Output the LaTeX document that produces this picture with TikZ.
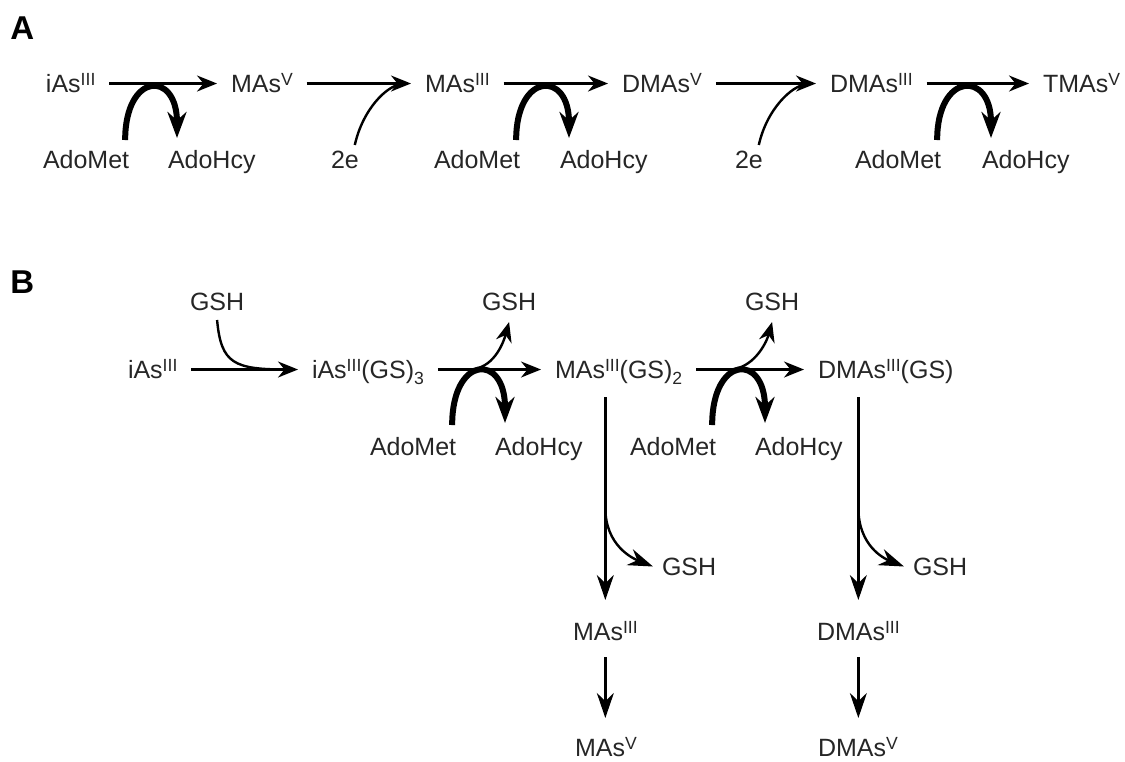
\documentclass[tikz,border=0pt]{standalone}
\usepackage{fontspec}
\setmainfont{Liberation Sans}
\usetikzlibrary{arrows.meta,calc}
\newcommand{\sps}[1]{\raisebox{3.4pt}{\fontsize{8.8}{9}\selectfont #1}}
\newcommand{\sbs}[1]{\raisebox{-3pt}{\fontsize{8.8}{9}\selectfont #1}}
\begin{document}
\begin{tikzpicture}[x=0.5pt,y=-0.5pt,
  font=\fontsize{12.5}{15}\selectfont,
  txt/.style={anchor=base west, inner xsep=0pt, inner ysep=0pt, outer sep=0pt, text height=9pt, text depth=0.5pt, text=black!85},
  chem/.style={txt, outer xsep=7pt, xshift=-7pt},
  lbl/.style={anchor=base west, inner sep=0pt, font=\fontsize{16.5}{18}\selectfont\bfseries},
  arr/.style={line width=1.2pt, -{Stealth[length=10pt,width=8pt]}},
  varr/.style={line width=1.2pt, -{Stealth[length=12.5pt,width=8.5pt]}},
  ln/.style={line width=1.2pt},
  thk/.style={line width=3pt, -{Stealth[length=13pt,width=9.5pt]}},
]
\path[use as bounding box] (0,0) rectangle (1125,761);
% ---------- Panel A ----------
\node[lbl] (A) at (10,39) {A};
\node[chem] (a1) at (46,92) {iAs\sps{III}};
\node[chem] (a2) at (231,92) {MAs\sps{V}};
\node[chem] (a3) at (425,92) {MAs\sps{III}};
\node[chem] (a4) at (622,92) {DMAs\sps{V}};
\node[chem] (a5) at (830,92) {DMAs\sps{III}};
\node[chem] (a6) at (1043,92) {TMAs\sps{V}};
\node[txt] (m1) at (43,168) {AdoMet};
\node[txt] (h1) at (168,168) {AdoHcy};
\node[txt] (e1) at (331,168) {2e};
\node[txt] (m2) at (434,168) {AdoMet};
\node[txt] (h2) at (560,168) {AdoHcy};
\node[txt] (e2) at (735,168) {2e};
\node[txt] (m3) at (855,168) {AdoMet};
\node[txt] (h3) at (982,168) {AdoHcy};
\draw[arr] (a1.east) -- (a2.west);
\draw[arr] (a2.east) -- (a3.west);
\draw[arr] (a3.east) -- (a4.west);
\draw[arr] (a4.east) -- (a5.west);
\draw[arr] (a5.east) -- (a6.west);
\draw[thk] ([shift={(-2pt,5pt)}]m1.north east) .. controls +(0,34pt) and +(0,34pt) .. ([shift={(4.5pt,6pt)}]h1.north west);
\draw[thk] ([shift={(-2pt,5pt)}]m2.north east) .. controls +(0,34pt) and +(0,34pt) .. ([shift={(4.5pt,6pt)}]h2.north west);
\draw[thk] ([shift={(-2pt,5pt)}]m3.north east) .. controls +(0,34pt) and +(0,34pt) .. ([shift={(4.5pt,6pt)}]h3.north west);
\draw[ln, shorten >=5pt] ([shift={(-2pt,2.5pt)}]e1.north east) .. controls +(4pt,18pt) and +(-12pt,-1pt) .. (a3.west);
\draw[ln, shorten >=5pt] ([shift={(-2pt,2.5pt)}]e2.north east) .. controls +(4pt,18pt) and +(-12pt,-1pt) .. (a5.west);
% ---------- Panel B ----------
\node[lbl] (B) at (10,293) {B};
\node[txt] (g1) at (190,310) {GSH};
\node[chem] (b1) at (128,378) {iAs\sps{III}};
\node[chem] (b2) at (312,378) {iAs\sps{III}(GS)\sbs{3}};
\node[chem] (b3) at (555,378) {MAs\sps{III}(GS)\sbs{2}};
\node[chem] (b4) at (818,378) {DMAs\sps{III}(GS)};
\node[txt] (g2) at (482,310) {GSH};
\node[txt] (g3) at (745,310) {GSH};
\node[txt] (m4) at (370,455) {AdoMet};
\node[txt] (h4) at (495,455) {AdoHcy};
\node[txt] (m5) at (630,455) {AdoMet};
\node[txt] (h5) at (755,455) {AdoHcy};
\node[txt] (g4) at (662,575) {GSH};
\node[txt] (g5) at (913,575) {GSH};
\node[txt] (c1) at (573,640) {MAs\sps{III}};
\node[txt] (c2) at (817,640) {DMAs\sps{III}};
\node[txt] (d1) at (575,756) {MAs\sps{V}};
\node[txt] (d2) at (818,756) {DMAs\sps{V}};
\draw[arr] (b1.east) -- (b2.west);
\draw[arr] (b2.east) -- (b3.west);
\draw[arr] (b3.east) -- (b4.west);
\draw[ln, shorten >=5pt] ([yshift=-4.5pt]g1.south) .. controls +(2pt,-22pt) and +(-32pt,0pt) .. (b2.west);
\coordinate (r1) at ($(b2.east)!0.3!(b3.west)$);
\coordinate (r2) at ($(b3.east)!0.3!(b4.west)$);
\draw[arr] (r1) .. controls +(12pt,0pt) and +(-3pt,-11pt) .. ([yshift=-5.5pt]g2.south);
\draw[arr] (r2) .. controls +(12pt,0pt) and +(-3pt,-11pt) .. ([yshift=-5.5pt]g3.south);
\draw[thk] ([shift={(-2pt,6pt)}]m4.north east) .. controls +(0,35pt) and +(0,35pt) .. ([shift={(5pt,7pt)}]h4.north west);
\draw[thk] ([shift={(-2pt,6pt)}]m5.north east) .. controls +(0,35pt) and +(0,35pt) .. ([shift={(5pt,7pt)}]h5.north west);
% vertical branches
\draw[varr, shorten <=9pt, shorten >=11pt] (c1.north |- b3.south) -- (c1.north);
\draw[varr, shorten <=9pt, shorten >=11pt] (c2.north |- b4.south) -- (c2.north);
\coordinate (v1) at ($(c1.north |- b3.south)!0.53!(c1.north)$);
\coordinate (v2) at ($(c2.north |- b4.south)!0.53!(c2.north)$);
\draw[varr] (v1) .. controls +(0,-19pt) and +(-10pt,4pt) .. ([xshift=-4.5pt]g4.west);
\draw[varr] (v2) .. controls +(0,-19pt) and +(-10pt,4pt) .. ([xshift=-4.5pt]g5.west);
\draw[varr, shorten <=8pt, shorten >=10pt] (c1.south) -- (c1.south |- d1.north);
\draw[varr, shorten <=8pt, shorten >=10pt] (c2.south) -- (c2.south |- d2.north);
\end{tikzpicture}
\end{document}
